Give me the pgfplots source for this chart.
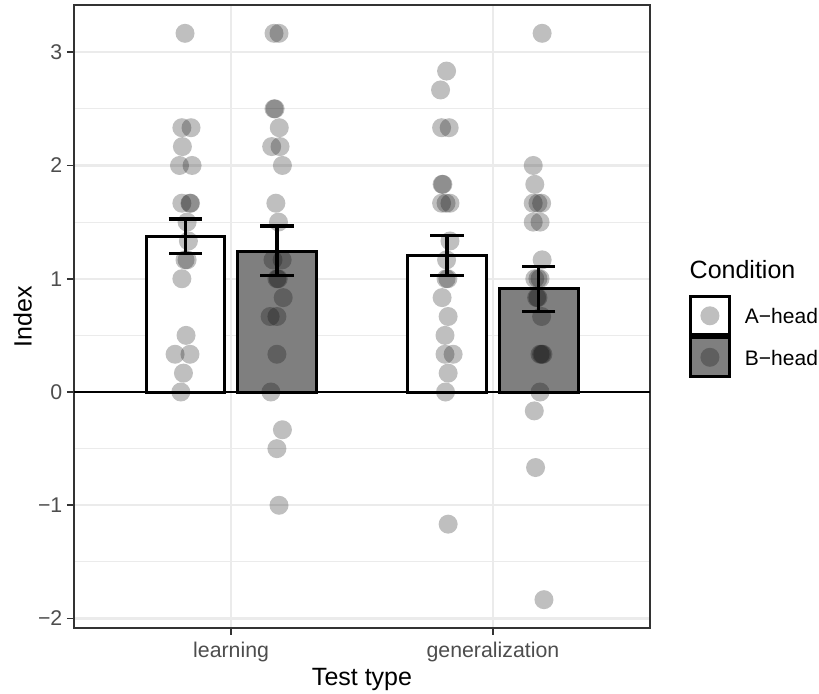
\documentclass[border=0pt]{standalone}
\usepackage{pgfplots}
\pgfplotsset{compat=1.18}
\usepackage{fontspec}
\setmainfont{Liberation Sans}
\definecolor{gridc}{HTML}{EBEBEB}
\definecolor{brd}{HTML}{333333}
\definecolor{ticklab}{HTML}{4D4D4D}
\definecolor{barB}{HTML}{7F7F7F}
\begin{document}
\begin{tikzpicture}
\begin{axis}[
  name=ax,
  scale only axis,
  width=576pt, height=623pt,
  xmin=0.4, xmax=2.6,
  ymin=-2.0833, ymax=3.4167,
  xtick={1,2}, xticklabels={learning,generalization},
  ytick={-2,-1,0,1,2,3}, yticklabels={−2,−1,0,1,2,3},
  minor ytick={-1.5,-0.5,0.5,1.5,2.5},
  minor tick length=0pt,
  major tick length=7pt,
  tick align=outside,
  tick pos=left,
  tick style={brd, line width=1.6pt},
  axis line style={brd, line width=1.4pt},
  xmajorgrids, ymajorgrids, yminorgrids,
  major grid style={gridc, line width=2.2pt},
  minor grid style={gridc, line width=1.1pt},
  ticklabel style={font=\fontsize{21.3}{25}\selectfont, text=ticklab},
  xticklabel style={anchor=base, inner sep=0pt, yshift=-23pt},
  yticklabel style={anchor=east, inner sep=0pt, xshift=-4.5pt},
  xlabel={Test type}, ylabel={Index},
  label style={font=\fontsize{25}{30}\selectfont, text=black, inner sep=0pt},
  xlabel style={at={(axis description cs:0.5,-0.0915)}, anchor=base},
  ylabel style={at={(axis description cs:-0.0729,0.5)}, anchor=south},
  clip=false,
  legend style={at={(1.068,0.5345)}, anchor=north west, draw=none, fill=none,
    inner sep=0pt, outer sep=0pt, row sep=0pt, column sep=14.3pt,
    nodes={inner sep=0pt}, font=\fontsize{21}{25}\selectfont},
  legend cell align=left,
]
% bars
\addplot[forget plot, ybar, bar width=0.3, bar shift=0pt, fill=white, draw=black, line width=3pt]
  coordinates {(0.825,1.375) (1.825,1.204)};
\addplot[forget plot, ybar, bar width=0.3, bar shift=0pt, fill=barB, draw=black, line width=3pt]
  coordinates {(1.175,1.243) (2.175,0.910)};
% zero line
\addplot[forget plot, black, line width=2.2pt] coordinates {(0.4,0) (2.6,0)};
% individual points
\addplot[forget plot, only marks, mark=*, mark size=9.5pt, draw=none, fill=black,
  mark options={draw=none, draw opacity=0, fill=black, fill opacity=0.25}] table {
x y
0.824 3.1667
0.812 2.3333
0.847 2.3333
0.814 2.1667
0.803 2.0
0.851 2.0
0.812 1.6667
0.845 1.6667
0.843 1.6667
0.832 1.5
0.837 1.3333
0.824 1.1667
0.832 1.1667
0.812 1.0
0.828 0.5
0.786 0.3333
0.843 0.3333
0.818 0.1667
0.808 0.0
1.164 3.1667
1.183 3.1667
1.164 2.5
1.168 2.5
1.184 2.3333
1.155 2.1667
1.187 2.1667
1.196 2.0
1.171 1.6667
1.181 1.5
1.160 1.1667
1.195 1.1667
1.175 1.0
1.180 1.0
1.199 0.8333
1.149 0.6667
1.175 0.6667
1.175 0.3333
1.152 0.0
1.196 -0.3333
1.175 -0.5
1.183 -1.0
1.823 2.8333
1.800 2.6667
1.804 2.3333
1.833 2.3333
1.806 1.8333
1.809 1.8333
1.804 1.6667
1.836 1.6667
1.821 1.6667
1.836 1.3333
1.823 1.1667
1.821 1.0
1.828 1.0
1.806 0.8333
1.829 0.6667
1.817 0.5
1.817 0.3333
1.848 0.3333
1.829 0.1667
1.819 0.0
1.829 -1.1667
2.188 3.1667
2.154 2.0
2.160 1.8333
2.154 1.6667
2.186 1.6667
2.172 1.6667
2.154 1.5
2.180 1.5
2.188 1.1667
2.160 1.0
2.180 1.0
2.172 1.0
2.167 0.8333
2.172 0.8333
2.186 0.6667
2.186 0.3333
2.180 0.3333
2.191 0.3333
2.180 0.0
2.158 -0.1667
2.163 -0.6667
2.195 -1.8333
};
% error bars
\addplot[forget plot, draw=none, mark=none,
  error bars/.cd, y dir=both, y explicit,
  error bar style={draw=black, line width=3.4pt},
  error mark options={draw=black, line width=3.4pt, mark size=16.7pt, rotate=90}]
  coordinates {
  (0.825,1.375) += (0,0.153) -= (0,0.150)
  (1.175,1.243) += (0,0.221) -= (0,0.212)
  (1.825,1.204) += (0,0.177) -= (0,0.177)
  (2.175,0.910) += (0,0.197) -= (0,0.197)
  };
% legend
\addlegendimage{legend image code/.code={
  \path[draw=black, line width=3pt, fill=white] (0pt,-18.2pt) rectangle (38.5pt,20.3pt);
  \path[draw=none, fill=black, fill opacity=0.25] (19.25pt,1pt) circle (9.5pt);}}
\addlegendentry{A−head}
\addlegendimage{legend image code/.code={
  \path[draw=black, line width=3pt, fill=barB] (0pt,-18.2pt) rectangle (38.5pt,20.3pt);
  \path[draw=none, fill=black, fill opacity=0.25] (19.25pt,1pt) circle (9.5pt);}}
\addlegendentry{B−head}
\node[anchor=base west, inner sep=0pt, font=\fontsize{25}{30}\selectfont]
  at (rel axis cs:1.0686,0.5613) {Condition};
\end{axis}
\pgfresetboundingbox
\path ([shift={(-74pt,-66pt)}]ax.south west) rectangle ([shift={(169pt,5pt)}]ax.north east);
\end{tikzpicture}
\end{document}
